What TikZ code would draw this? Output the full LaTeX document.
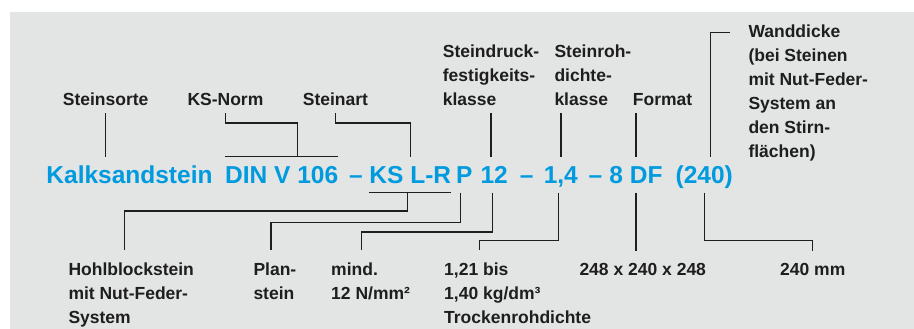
\documentclass[tikz,border=0pt]{standalone}
\usepackage{fontspec}
\setmainfont{Liberation Sans}
\definecolor{ksblue}{RGB}{0,155,222}
\definecolor{panel}{RGB}{227,228,228}
\definecolor{ink}{RGB}{30,30,30}

\begin{document}
\begin{tikzpicture}[x=1pt,y=-1pt,
    lbl/.style={anchor=base west,inner xsep=0pt,inner ysep=7.5pt,align=left,
      text=ink,font=\fontsize{17.5}{24}\selectfont\bfseries},
    lblb/.style={lbl,inner ysep=12pt},
    code/.style={anchor=base,inner xsep=0pt,inner ysep=9pt,text height=17.5pt,
      text depth=0pt,text=ksblue,font=\fontsize{24.5}{28}\selectfont\bfseries},
    conn/.style={draw=ink,line width=1.4pt}]

  \useasboundingbox (0,0) rectangle (914,329);
  \fill[panel] (10,12) rectangle (914,329);

  % the designation
  \node[code] (kalk)   at (129.5,183.3) {Kalksandstein};
  \node[code] (din)    at (281.7,183.3) {DIN V 106};
  \node[code] (dasha)  at (356,183.3)   {--};
  \node[code] (kslr)   at (410.3,183.3) {KS L-R};
  \node[code] (p)      at (464.2,183.3) {P};
  \node[code] (zwoelf) at (494.2,183.3) {12};
  \node[code] (dashb)  at (526.7,183.3) {--};
  \node[code] (eins)   at (560.8,183.3) {1,4};
  \node[code] (dashc)  at (595.5,183.3) {--};
  \node[code] (df)     at (636,183.3)   {8 DF};
  \node[code] (paren)  at (704.2,183.3) {(240)};

  % labels above
  \node[lbl] (sorte)  at (62.7,105.5)  {Steinsorte};
  \node[lbl] (norm)   at (187.3,105.5) {KS-Norm};
  \node[lbl] (art)    at (302.7,105.5) {Steinart};
  \node[lbl] (druck)  at (442.7,105.5) {Steindruck-\\festigkeits-\\klasse};
  \node[lbl] (rohd)   at (554.3,105.5) {Steinroh-\\dichte-\\klasse};
  \node[lbl] (format) at (632.7,105.5) {Format};
  \node[lbl] (wand)   at (748.3,157.3)
    {Wanddicke\\(bei Steinen\\mit Nut-Feder-\\System an\\den Stirn-\\flächen)};

  % labels below
  \node[lblb] (hohl)   at (68.3,323)  {Hohlblockstein\\mit Nut-Feder-\\System};
  \node[lblb] (plan)   at (253.3,299) {Plan-\\stein};
  \node[lblb] (mind)   at (331,299)   {mind.\\12 N/mm²};
  \node[lblb] (dichte) at (444,323)   {1,21 bis\\1,40 kg/dm³\\Trockenrohdichte};
  \node[lblb] (dim)    at (579.3,275) {248 x 240 x 248};
  \node[lblb] (mm)     at (780,275)   {240 mm};

  \coordinate (wtick) at (730,32.3);

  % connectors above
  \draw[conn] (sorte.south) -- (sorte.south |- kalk.north);
  \draw[conn] (din.north west) -- (din.north east);
  \draw[conn] (norm.south) -- ++(0,9.7) -| ([xshift=16pt]din.north);
  \draw[conn] (art.south) -- ++(0,9.7) -| (kslr.north);
  \draw[conn] (druck.south) -- (druck.south |- zwoelf.north);
  \draw[conn] (eins.north) -- (eins.north |- rohd.south);
  \draw[conn] (df.north) -- (df.north |- format.south);
  \draw[conn] (wtick) -| ([xshift=6pt]paren.north);

  % connectors below
  \draw[conn] (kslr.south west) -- (kslr.south east);
  \draw[conn] ([xshift=-3pt]kslr.south) -- ++(0,18.4) -| ([xshift=56pt]hohl.north west);
  \draw[conn] ([xshift=-4pt]p.south) -- ++(0,30) -| ([xshift=17.7pt]plan.north west);
  \draw[conn] ([xshift=-2pt]zwoelf.south) -- ++(0,39.4) -| ([xshift=30.7pt]mind.north west);
  \draw[conn] ([xshift=-2.5pt]eins.south) -- ++(0,47.7) -| ([xshift=35.3pt]dichte.north west);
  \draw[conn] (df.south) -- (df.south |- dim.north);
  \draw[conn] (paren.south) -- ++(0,47.7) -| (mm.north);
\end{tikzpicture}
\end{document}
